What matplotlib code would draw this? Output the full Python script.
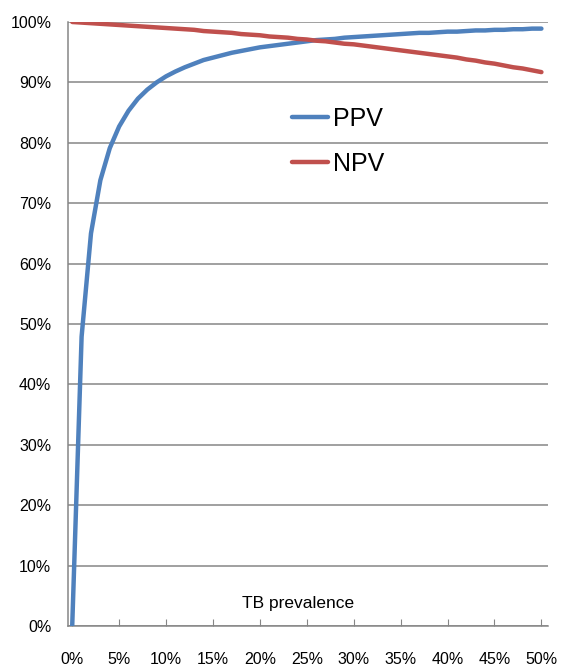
import matplotlib
matplotlib.use("Agg")
import matplotlib.pyplot as plt
from matplotlib.ticker import FuncFormatter

plt.rcParams['font.family'] = ['Liberation Sans', 'DejaVu Sans']

# TB prevalence (%) and predictive values (%)
prevalence = list(range(0, 51))
ppv = [0.0, 47.9, 65.0, 73.8, 79.1, 82.7, 85.3, 87.3, 88.8, 90.0,
       91.0, 91.8, 92.5, 93.1, 93.7, 94.1, 94.5, 94.9, 95.2, 95.5,
       95.8, 96.0, 96.2, 96.4, 96.6, 96.8, 97.0, 97.1, 97.2, 97.4,
       97.5, 97.6, 97.7, 97.8, 97.9, 98.0, 98.1, 98.2, 98.2, 98.3,
       98.4, 98.4, 98.5, 98.6, 98.6, 98.7, 98.7, 98.8, 98.8, 98.9,
       98.9]
npv = [100.0, 99.9, 99.8, 99.7, 99.6, 99.5, 99.4, 99.3, 99.2, 99.1,
       99.0, 98.9, 98.8, 98.7, 98.5, 98.4, 98.3, 98.2, 98.0, 97.9,
       97.8, 97.6, 97.5, 97.4, 97.2, 97.1, 96.9, 96.8, 96.6, 96.4,
       96.3, 96.1, 95.9, 95.7, 95.5, 95.3, 95.1, 94.9, 94.7, 94.5,
       94.3, 94.1, 93.8, 93.6, 93.3, 93.1, 92.8, 92.5, 92.3, 92.0,
       91.7]
x_ticks = list(range(0, 51, 5))
y_ticks = list(range(0, 101, 10))

grid_color = '#868686'

fig = plt.figure(figsize=(5.61, 6.68), dpi=100)
ax = fig.add_axes([0.1212, 0.0629, 0.8556, 0.9042])

ax.plot(prevalence, ppv, color='#4F81BD', lw=3.2, solid_capstyle='round', label='PPV', zorder=3)
ax.plot(prevalence, npv, color='#C0504D', lw=3.2, solid_capstyle='round', label='NPV', zorder=3)

ax.set_xlim(-0.45, 50.7)
ax.set_ylim(0, 100)
ax.set_xticks(x_ticks)
ax.set_yticks(y_ticks)
pct = FuncFormatter(lambda v, p: f'{v:.0f}%')
ax.xaxis.set_major_formatter(pct)
ax.yaxis.set_major_formatter(pct)

ax.yaxis.grid(True, color=grid_color, lw=1.1)
ax.set_axisbelow(True)
for s in ['top', 'right']:
    ax.spines[s].set_visible(False)
for s in ['left', 'bottom']:
    ax.spines[s].set_color(grid_color)
    ax.spines[s].set_linewidth(1.1)

ax.tick_params(axis='x', direction='in', length=5, color=grid_color, pad=19, labelsize=11.5)
ax.tick_params(axis='y', length=0, pad=12, labelsize=11.5)

ax.text(0.479, 0.038, 'TB prevalence', transform=ax.transAxes, ha='center', va='center', fontsize=12.5)

ax.legend(loc='center left', bbox_to_anchor=(0.467, 0.802), frameon=False, fontsize=18,
          handlelength=1.45, handletextpad=0.2, labelspacing=0.85,
          borderpad=0, borderaxespad=0)

plt.savefig('out.png', dpi=100)
